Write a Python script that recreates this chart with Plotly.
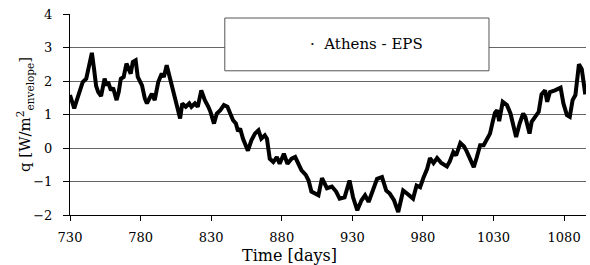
import plotly.graph_objects as go

days = [730, 731.5, 733, 735, 737, 739, 741.5, 743, 744, 745.5, 747, 748.5, 750, 752, 754.5, 756, 757, 759, 760.5,
        763, 764.5, 766, 768, 770, 771.5, 773, 774.5, 776.5, 778, 779.5, 781, 783, 784.5, 786.5, 788, 790, 792.5,
        795, 796.5, 798.5, 800, 802.5, 804, 806, 808, 809.5, 812, 814.5, 816, 818.5, 820.5, 823, 825.5, 828,
        829.5, 832, 834, 836.5, 839, 841.5, 843, 845.5, 847.5, 849, 850.5, 852.5, 856, 858.5, 861, 863.5, 865.5,
        868, 869.5, 871.5, 874, 876.5, 878.5, 881.5, 884, 887, 889.5, 891.5, 894, 897, 899, 901, 903.5, 906,
        908.5, 909.5, 912, 915.5, 918.5, 921, 924.5, 928, 930.5, 933.5, 936.5, 939, 941.5, 944.5, 947.5, 951,
        954, 956.5, 959.5, 962.5, 966, 968.5, 971, 973, 975.5, 978, 980.5, 983, 985, 987.5, 990, 993, 997, 999,
        1001.5, 1003.5, 1006.5, 1009, 1011, 1014.5, 1016, 1018, 1020.5, 1023, 1025, 1027.5, 1029.5, 1031, 1032.5,
        1034, 1036.5, 1039.5, 1042, 1044, 1046, 1048.5, 1051, 1052.5, 1054, 1055.5, 1057, 1059.5, 1062, 1064,
        1066.5, 1068, 1070, 1073.5, 1077.5, 1079.5, 1082, 1084, 1086, 1088, 1090.5, 1092.5, 1095]
q_values = [1.58, 1.35, 1.18, 1.45, 1.72, 1.97, 2.07, 2.40, 2.52, 2.84, 2.37, 1.85, 1.67, 1.55, 2.07, 1.87, 1.97, 1.72, 1.80,
            1.43, 1.67, 2.07, 2.12, 2.52, 2.37, 2.22, 2.57, 2.62, 2.12, 1.97, 1.87, 1.48, 1.33, 1.50, 1.62, 1.43, 1.97,
            2.22, 2.12, 2.47, 2.22, 1.92, 1.58, 1.23, 0.88, 1.33, 1.23, 1.33, 1.23, 1.33, 1.23, 1.72, 1.43, 1.23,
            1.08, 0.73, 1.03, 1.13, 1.28, 1.23, 1.08, 0.83, 0.73, 0.50, 0.58, 0.28, -0.08, 0.23, 0.43, 0.53, 0.28,
            0.38, 0.28, -0.32, -0.42, -0.27, -0.47, -0.17, -0.47, -0.32, -0.27, -0.47, -0.67, -0.80, -0.97, -1.30, -1.36, -1.41,
            -0.90, -0.97, -1.20, -1.15, -1.30, -1.51, -1.47, -0.97, -1.47, -1.86, -1.56, -1.41, -1.61, -1.27, -0.92, -0.87,
            -1.27, -1.36, -1.56, -1.91, -1.27, -1.35, -1.45, -1.51, -1.12, -1.17, -0.87, -0.62, -0.30, -0.45, -0.30, -0.45, -0.55, -0.40,
            -0.12, -0.22, 0.15, 0.05, -0.10, -0.47, -0.57, -0.30, 0.08, 0.08, 0.23, 0.43, 0.80, 1.05, 1.13,
            0.80, 1.38, 1.28, 1.03, 0.70, 0.33, 0.73, 1.03, 0.93, 0.68, 0.43, 0.78, 0.93, 1.08, 1.60,
            1.72, 1.38, 1.67, 1.72, 1.80, 1.33, 0.98, 0.93, 1.43, 1.58, 2.50, 2.35, 1.60]

series_name = "Athens - EPS"
x_title = "Time [days]"
y_title = "q [W/m<sup>2</sup><sub>envelope</sub>]"
x_ticks = [730, 780, 830, 880, 930, 980, 1030, 1080]
y_ticks = [-2, -1, 0, 1, 2, 3, 4]

FONT = "DejaVu Serif"

fig = go.Figure()
fig.add_trace(go.Scatter(x=days, y=q_values, mode="lines", name=series_name,
                         line=dict(color="black", width=4), showlegend=False))

fig.update_layout(
    width=590, height=265,
    margin=dict(l=70, r=4, t=14, b=50, autoexpand=False),
    paper_bgcolor="white", plot_bgcolor="white",
    font=dict(family=FONT, size=13, color="black"),
)
fig.update_xaxes(
    range=[730, 1095.5], tickvals=x_ticks, ticktext=[str(t) for t in x_ticks],
    showgrid=False, zeroline=False, showline=True, linecolor="black", linewidth=1,
    ticks="outside", ticklen=5, tickcolor="black", ticklabelstandoff=5, automargin=False,
)
fig.update_yaxes(
    range=[-2, 4], tickvals=y_ticks,
    showgrid=True, gridcolor="#666666", gridwidth=1, zeroline=False,
    showline=True, linecolor="black", linewidth=1,
    ticks="outside", ticklen=6, tickcolor="black", ticklabelstandoff=8, automargin=False,
)

fig.add_annotation(xref="paper", yref="paper", x=0.426, y=-0.2, xanchor="center", yanchor="middle",
                   text=x_title, showarrow=False, font=dict(family=FONT, size=16, color="black"))
fig.add_annotation(xref="paper", yref="paper", x=-0.088, y=0.5, xanchor="center", yanchor="middle",
                   text=y_title, textangle=-90, showarrow=False, font=dict(family=FONT, size=15, color="black"))

fig.add_shape(type="rect", xref="paper", yref="paper", x0=0.30, x1=0.812, y0=0.7175, y1=0.98,
              line=dict(color="#555555", width=1), fillcolor="white", layer="above")
fig.add_annotation(xref="paper", yref="paper", x=0.575, y=0.85, xanchor="center", yanchor="middle",
                   text="·  " + series_name, showarrow=False, font=dict(family=FONT, size=15, color="black"))

fig.write_html("out.html", config={"displayModeBar": False},
               post_script="document.body.style.margin='0';")
